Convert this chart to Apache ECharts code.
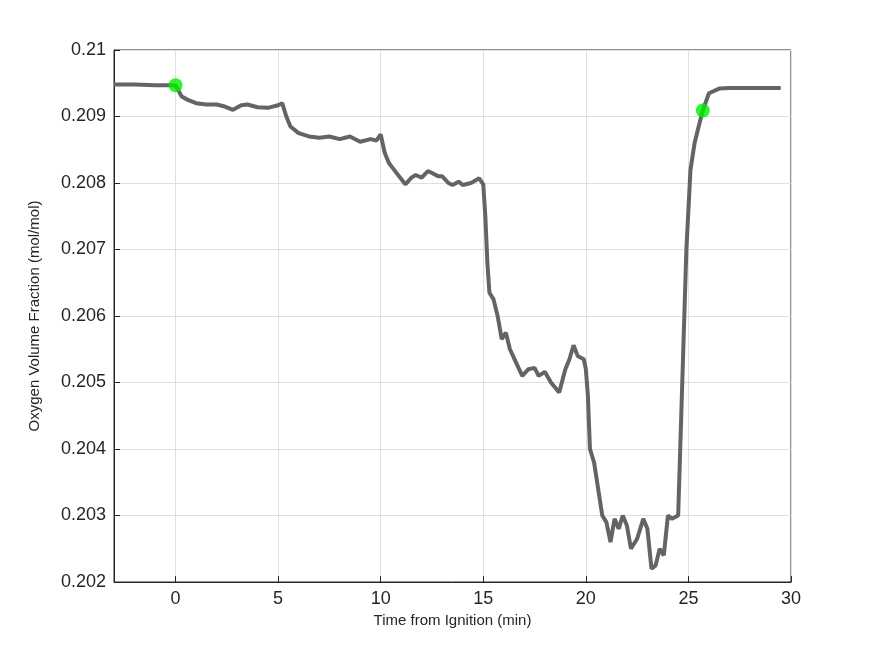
<!DOCTYPE html>
<html>
<head>
<meta charset="utf-8">
<script src="https://cdn.jsdelivr.net/npm/echarts@6/dist/echarts.min.js"></script>
</head>
<body style="margin:0;background:#fff">
<div id="main" style="width:875px;height:656px"></div>
<script>
    // time from ignition (min) and oxygen fraction (mol/mol)
    var times = [-3, -2, -1, 0, 0.3, 0.6, 1, 1.5, 2, 2.4, 2.8, 3.2, 3.5, 4, 4.5, 5, 5.2, 5.4, 5.6, 6, 6.5, 7, 7.5, 8, 8.5, 9, 9.5, 9.8, 10, 10.2, 10.4, 10.6, 10.9, 11.2, 11.5, 11.7, 12, 12.3, 12.5, 12.8, 13, 13.3, 13.5, 13.8, 14, 14.4, 14.8, 15, 15.1, 15.2, 15.3, 15.5, 15.7, 15.9, 16.1, 16.3, 16.6, 16.9, 17.2, 17.5, 17.7, 18, 18.3, 18.7, 19, 19.2, 19.4, 19.6, 19.9, 20, 20.1, 20.2, 20.4, 20.6, 20.8, 21, 21.2, 21.4, 21.6, 21.8, 22, 22.2, 22.5, 22.8, 23, 23.2, 23.4, 23.6, 23.8, 24, 24.2, 24.5, 24.7, 24.9, 25.1, 25.3, 25.5, 25.7, 26, 26.5, 27, 28, 29.5];
    var oxygen = [0.20948, 0.20948, 0.20947, 0.20947, 0.20930, 0.20925, 0.20920, 0.20918, 0.20918, 0.20915, 0.20910, 0.20917, 0.20918, 0.20914, 0.20913, 0.20917, 0.20920, 0.20900, 0.20885, 0.20875, 0.20870, 0.20868, 0.20870, 0.20866, 0.20870, 0.20862, 0.20866, 0.20864, 0.20873, 0.20845, 0.20830, 0.20822, 0.20810, 0.20798, 0.20808, 0.20812, 0.20808, 0.20818, 0.20815, 0.20810, 0.20810, 0.20800, 0.20797, 0.20802, 0.20797, 0.20800, 0.20807, 0.20798, 0.20750, 0.20680, 0.20635, 0.20625, 0.20600, 0.20565, 0.20575, 0.20550, 0.20530, 0.20510, 0.20520, 0.20522, 0.20510, 0.20516, 0.20500, 0.20485, 0.20520, 0.20535, 0.20556, 0.20540, 0.20535, 0.20520, 0.20480, 0.20400, 0.20380, 0.20340, 0.20300, 0.20290, 0.20260, 0.20295, 0.20280, 0.20300, 0.20285, 0.20250, 0.20265, 0.20295, 0.20280, 0.20220, 0.20225, 0.20250, 0.20240, 0.20300, 0.20295, 0.20300, 0.20500, 0.20700, 0.20820, 0.20860, 0.20885, 0.20909, 0.20935, 0.20942, 0.20943, 0.20943, 0.20943];
    var xTicks = [0, 5, 10, 15, 20, 25, 30];
    var markerTimes = [0, 25.7];
    var markerValues = [0.20947, 0.20909];

    var line = times.map(function(t, i) { return [t, oxygen[i]]; });
    var marks = markerTimes.map(function(t, i) { return [t, markerValues[i]]; });

    var chart = echarts.init(document.getElementById('main'));
    var axisLab = { color: '#262626', fontSize: 18, fontFamily: 'Liberation Sans' };
    chart.setOption({
        animation: false,
        grid: { left: 114, right: 84, top: 50, bottom: 74, show: true, borderColor: '#262626', borderWidth: 1 },
        xAxis: {
            type: 'value', min: -3, max: 30,
            name: 'Time from Ignition (min)', nameLocation: 'middle', nameGap: 30,
            nameTextStyle: { color: '#262626', fontSize: 15, fontFamily: 'Liberation Sans' },
            axisLabel: Object.assign({ customValues: xTicks }, axisLab),
            axisTick: { inside: true, length: 6, lineStyle: { color: '#262626' }, customValues: xTicks },
            axisLine: { onZero: false, lineStyle: { color: '#262626' } },
            splitLine: { lineStyle: { color: '#dfdfdf' } }
        },
        yAxis: {
            type: 'value', min: 0.202, max: 0.21, interval: 0.001,
            name: 'Oxygen Volume Fraction (mol/mol)', nameLocation: 'middle', nameGap: 72,
            nameTextStyle: { color: '#262626', fontSize: 15, fontFamily: 'Liberation Sans' },
            axisLabel: Object.assign({ formatter: function(v) { return +v.toFixed(3) + ''; } }, axisLab),
            axisTick: { inside: true, length: 6, lineStyle: { color: '#262626' } },
            axisLine: { onZero: false, lineStyle: { color: '#262626' } },
            splitLine: { lineStyle: { color: '#dfdfdf' } }
        },
        series: [{
            type: 'line', data: line, symbol: 'none',
            lineStyle: { color: '#646464', width: 4 }
        }, {
            type: 'scatter', data: marks, symbolSize: 14, z: 5,
            itemStyle: { color: '#00ee00' }
        }]
    });
</script>
</body>
</html>
